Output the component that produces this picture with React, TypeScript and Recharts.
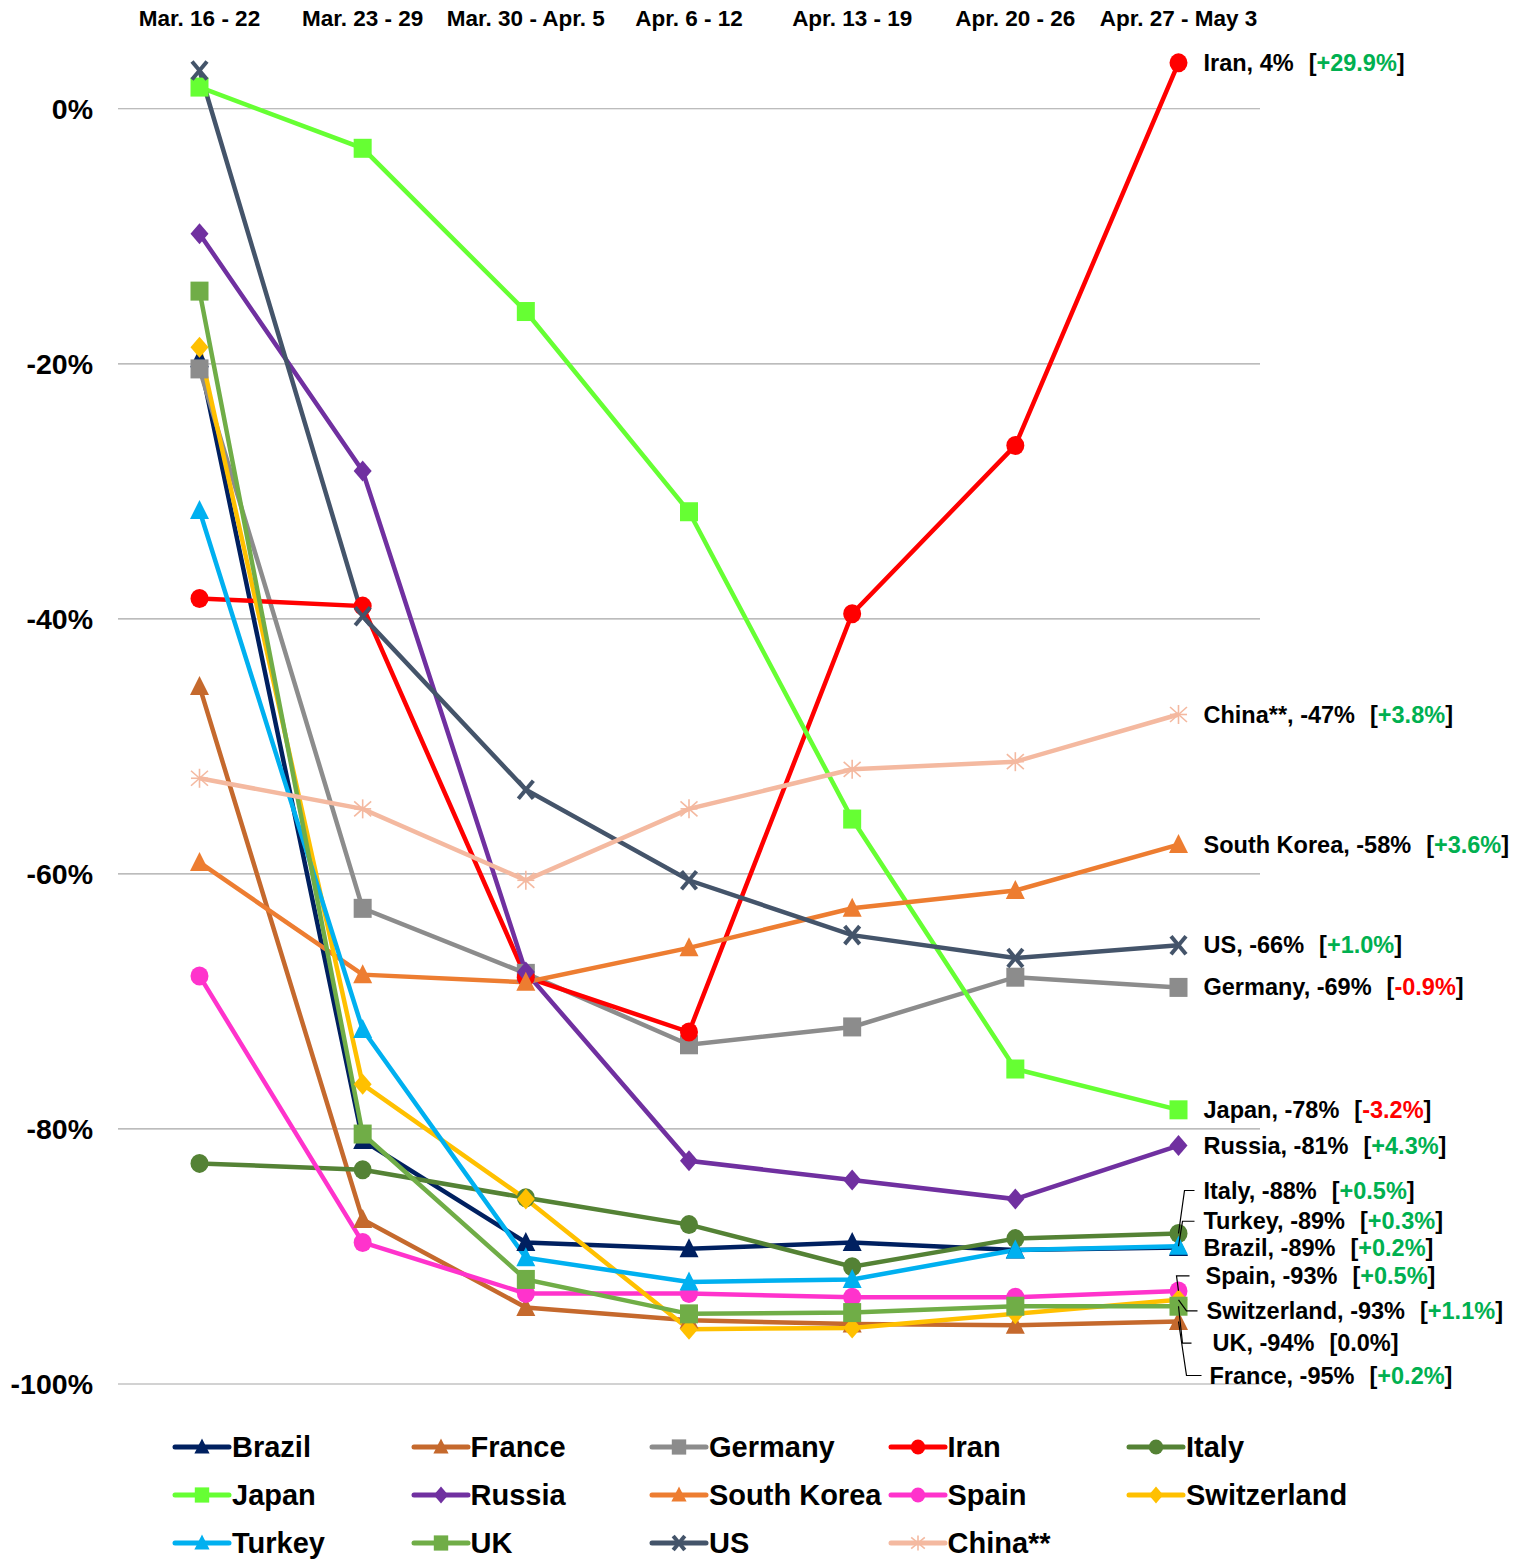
import React from "react";
import {
  LineChart,
  Line,
  XAxis,
  YAxis,
  CartesianGrid,
  Legend,
  LabelList,
} from "recharts";

const FONT = "'Liberation Sans', Arial, sans-serif";

const weeks = [
  "Mar. 16 - 22",
  "Mar. 23 - 29",
  "Mar. 30 - Apr. 5",
  "Apr. 6 - 12",
  "Apr. 13 - 19",
  "Apr. 20 - 26",
  "Apr. 27 - May 3",
];

const brazil = [-19.6, -80.9, -88.9, -89.4, -88.9, -89.5, -89.3];
const france = [-45.3, -87.1, -94.0, -95.0, -95.3, -95.4, -95.1];
const germany = [-20.4, -62.7, -67.8, -73.4, -72.0, -68.1, -68.9];
const iran = [-38.4, -39.0, -68.1, -72.4, -39.6, -26.4, 3.6];
const italy = [-82.7, -83.2, -85.4, -87.5, -90.8, -88.6, -88.2];
const japan = [1.7, -3.1, -15.9, -31.6, -55.7, -75.3, -78.5];
const russia = [-9.8, -28.4, -67.7, -82.5, -84.0, -85.5, -81.3];
const southKorea = [-59.1, -67.9, -68.5, -65.8, -62.7, -61.3, -57.7];
const spain = [-68.0, -88.9, -92.9, -92.9, -93.2, -93.2, -92.7];
const switzerland = [-18.7, -76.5, -85.5, -95.7, -95.6, -94.5, -93.4];
const turkey = [-31.5, -72.2, -90.1, -92.0, -91.8, -89.5, -89.2];
const uk = [-14.3, -80.4, -91.8, -94.5, -94.4, -93.9, -93.9];
const us = [3.0, -39.8, -53.4, -60.5, -64.8, -66.6, -65.6];
const china = [-52.5, -54.9, -60.5, -54.9, -51.8, -51.2, -47.5];

const yTicks = [-100, -80, -60, -40, -20, 0];

type Shape = "triangle" | "square" | "circle" | "diamond" | "x" | "star";

interface Series {
  name: string;
  values: number[];
  color: string;
  shape: Shape;
  label: string;
  change: string;
}

const series: Series[] = [
  { name: "Brazil", values: brazil, color: "#002060", shape: "triangle", label: "Brazil, -89%", change: "+0.2%" },
  { name: "France", values: france, color: "#C5692D", shape: "triangle", label: "France, -95%", change: "+0.2%" },
  { name: "Germany", values: germany, color: "#8C8C8C", shape: "square", label: "Germany, -69%", change: "-0.9%" },
  { name: "Iran", values: iran, color: "#FF0000", shape: "circle", label: "Iran, 4%", change: "+29.9%" },
  { name: "Italy", values: italy, color: "#548235", shape: "circle", label: "Italy, -88%", change: "+0.5%" },
  { name: "Japan", values: japan, color: "#66FF33", shape: "square", label: "Japan, -78%", change: "-3.2%" },
  { name: "Russia", values: russia, color: "#7030A0", shape: "diamond", label: "Russia, -81%", change: "+4.3%" },
  { name: "South Korea", values: southKorea, color: "#ED7D31", shape: "triangle", label: "South Korea, -58%", change: "+3.6%" },
  { name: "Spain", values: spain, color: "#FF33CC", shape: "circle", label: "Spain, -93%", change: "+0.5%" },
  { name: "Switzerland", values: switzerland, color: "#FFC000", shape: "diamond", label: "Switzerland, -93%", change: "+1.1%" },
  { name: "Turkey", values: turkey, color: "#00B0F0", shape: "triangle", label: "Turkey, -89%", change: "+0.3%" },
  { name: "UK", values: uk, color: "#70AD47", shape: "square", label: "UK, -94%", change: "0.0%" },
  { name: "US", values: us, color: "#44546A", shape: "x", label: "US, -66%", change: "+1.0%" },
  { name: "China**", values: china, color: "#F4B9A0", shape: "star", label: "China**, -47%", change: "+3.8%" },
];

// where the end-of-line labels sit relative to the last point
const placement: Record<string, { dx: number; dy: number; leader?: { ex: number; hx: number } }> = {
  Italy: { dx: 25, dy: -43, leader: { ex: 6, hx: 16 } },
  Turkey: { dx: 25, dy: -25, leader: { ex: 4, hx: 16 } },
  Spain: { dx: 27, dy: -15, leader: { ex: -2, hx: 11 } },
  Switzerland: { dx: 28, dy: 11, leader: { ex: 8, hx: 19 } },
  UK: { dx: 34, dy: 37, leader: { ex: 4, hx: 13 } },
  France: { dx: 31, dy: 54, leader: { ex: 8, hx: 23 } },
};

const markerSize: Record<Shape, [number, number]> = {
  triangle: [19, 19],
  square: [18, 19],
  circle: [18, 19],
  diamond: [18, 21],
  x: [17, 20],
  star: [17, 19],
};

const data = weeks.map((week, i) => {
  const row: Record<string, string | number> = { week };
  series.forEach((s) => {
    row[s.name] = s.values[i];
  });
  return row;
});

function Marker({ shape, color, cx, cy, scale = 1 }: { shape: Shape; color: string; cx: number; cy: number; scale?: number }) {
  if (cx == null || cy == null) return null;
  const w = markerSize[shape][0] * scale;
  const h = markerSize[shape][1] * scale;
  switch (shape) {
    case "circle":
      return <ellipse cx={cx} cy={cy} rx={w / 2} ry={h / 2} fill={color} />;
    case "square":
      return <rect x={cx - w / 2} y={cy - h / 2} width={w} height={h} fill={color} />;
    case "triangle":
      return (
        <polygon
          points={`${cx},${cy - h / 2 - 1} ${cx + w / 2},${cy + h / 2 - 1} ${cx - w / 2},${cy + h / 2 - 1}`}
          fill={color}
        />
      );
    case "diamond":
      return (
        <polygon
          points={`${cx},${cy - h / 2} ${cx + w / 2},${cy} ${cx},${cy + h / 2} ${cx - w / 2},${cy}`}
          fill={color}
        />
      );
    case "x":
      return (
        <g stroke={color} strokeWidth={4}>
          <line x1={cx - w / 2 + 1} y1={cy - h / 2 + 1} x2={cx + w / 2 - 1} y2={cy + h / 2 - 1} />
          <line x1={cx + w / 2 - 1} y1={cy - h / 2 + 1} x2={cx - w / 2 + 1} y2={cy + h / 2 - 1} />
        </g>
      );
    case "star":
      return (
        <g stroke={color} strokeWidth={1.6}>
          <line x1={cx} y1={cy - h / 2} x2={cx} y2={cy + h / 2} />
          <line x1={cx - w / 2} y1={cy} x2={cx + w / 2} y2={cy} />
          <line x1={cx - w / 2} y1={cy - h / 2 + 2} x2={cx + w / 2} y2={cy + h / 2 - 2} />
          <line x1={cx + w / 2} y1={cy - h / 2 + 2} x2={cx - w / 2} y2={cy + h / 2 - 2} />
        </g>
      );
  }
  return null;
}

function changeColor(c: string) {
  if (c.startsWith("+")) return "#00B050";
  if (c.startsWith("-")) return "#FF0000";
  return "#000";
}

function EndLabel({ s, x, y }: { s: Series; x: number; y: number }) {
  const p = placement[s.name] || { dx: 25, dy: 0 };
  const ly = y + p.dy;
  return (
    <g>
      {p.leader && (
        <polyline
          points={`${x},${y} ${x + p.leader.ex},${ly} ${x + p.leader.hx},${ly}`}
          fill="none"
          stroke="#000"
          strokeWidth={1.2}
        />
      )}
      <text
        x={x + p.dx}
        y={ly}
        dominantBaseline="central"
        fontFamily={FONT}
        fontWeight="bold"
        fontSize={23.5}
        fill="#000"
      >
        {s.label}
        <tspan dx={15}>[</tspan>
        <tspan fill={changeColor(s.change)}>{s.change}</tspan>
        <tspan>]</tspan>
      </text>
    </g>
  );
}

function LegendContent() {
  return (
    <div
      style={{
        display: "grid",
        gridTemplateColumns: "repeat(5, 238.5px)",
        gridAutoRows: "48px",
        fontFamily: FONT,
        fontWeight: "bold",
        fontSize: 29,
        color: "#000",
      }}
    >
      {series.map((s) => (
        <div key={s.name} style={{ display: "flex", alignItems: "center", whiteSpace: "nowrap" }}>
          <svg width={60} height={24}>
            <line x1={3} y1={12} x2={57} y2={12} stroke={s.color} strokeWidth={5} strokeLinecap="round" />
            <Marker shape={s.shape} color={s.color} cx={30} cy={12} scale={0.8} />
          </svg>
          <span>{s.name}</span>
        </div>
      ))}
    </div>
  );
}

function TopTick(props: any) {
  const { x, y, payload } = props;
  return (
    <text x={x} y={y} textAnchor="middle" fontFamily={FONT} fontWeight="bold" fontSize={22.5} fill="#000">
      {payload.value}
    </text>
  );
}

export default function App() {
  const last = weeks.length - 1;
  return (
    <div style={{ position: "absolute", left: 0, top: 0, background: "#fff" }}>
      <LineChart
        width={1530}
        height={1560}
        data={data}
        margin={{ top: 0, right: 270, bottom: 26, left: 0 }}
      >
        <CartesianGrid
          horizontal
          vertical={false}
          horizontalValues={yTicks}
          stroke="#A6A6A6"
          strokeWidth={1.2}
        />
        <XAxis
          dataKey="week"
          orientation="top"
          height={45}
          axisLine={false}
          tickLine={false}
          tickSize={0}
          tickMargin={19}
          interval={0}
          padding={{ left: 81.5, right: 81.5 }}
          tick={<TopTick />}
        />
        <YAxis
          width={118}
          domain={[-100, 5]}
          ticks={yTicks}
          axisLine={false}
          tickLine={false}
          tickSize={0}
          tickMargin={25}
          tickFormatter={(v: number) => `${v}%`}
          tick={{ fill: "#000", fontSize: 28.5, fontWeight: "bold", fontFamily: FONT }}
        />
        <Legend
          verticalAlign="bottom"
          content={() => <LegendContent />}
          wrapperStyle={{ position: "absolute", top: 1423, left: 172, width: 1200, height: 150, bottom: "auto" }}
        />
        {series.map((s) => (
          <Line
            key={s.name}
            dataKey={s.name}
            name={s.name}
            type="linear"
            stroke={s.color}
            strokeWidth={4.5}
            isAnimationActive={false}
            activeDot={false}
            dot={(p: any) => (
              <Marker key={`${s.name}-${p.index}`} shape={s.shape} color={s.color} cx={p.cx} cy={p.cy} />
            )}
          >
            <LabelList
              dataKey={s.name}
              content={(p: any) =>
                p.index === last ? <EndLabel key={`${s.name}-lbl`} s={s} x={Number(p.x)} y={Number(p.y)} /> : null
              }
            />
          </Line>
        ))}
      </LineChart>
    </div>
  );
}
